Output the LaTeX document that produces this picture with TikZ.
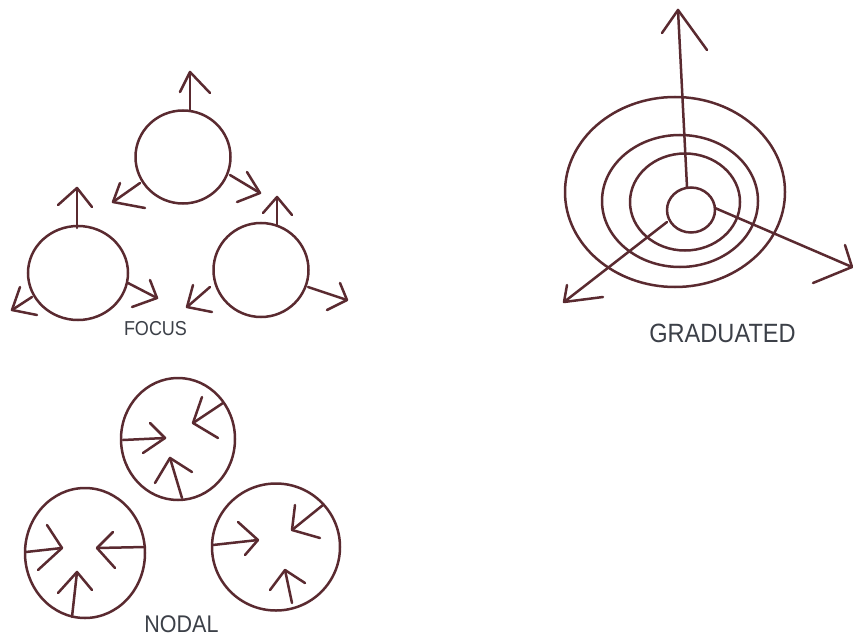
\documentclass[tikz,border=0pt]{standalone}
\usepackage{fontspec}
\setmainfont{Liberation Sans}
\usetikzlibrary{shapes.geometric}
\definecolor{ink}{HTML}{5A2A30}
\definecolor{txt}{HTML}{3C4048}
\newcommand{\tallcaps}[1]{\scalebox{1}[1.12]{#1}}
\tikzset{
  ring/.style={ellipse,draw=ink,line width=2.5pt,inner sep=0pt},
  stroke/.style={draw=ink,line width=2.5pt,line cap=round,line join=round},
  lbl/.style={text=txt,inner sep=0pt,text depth=0pt,anchor=base}
}
\begin{document}
\begin{tikzpicture}[x=1pt,y=-1pt]
\useasboundingbox[fill=white] (0,0) rectangle (853,639);
% ---------- FOCUS ----------
\node[ring,minimum width=95pt,minimum height=93pt] (ft) at (183,157) {};
\node[ring,minimum width=100pt,minimum height=94pt] (fl) at (78,273) {};
\node[ring,minimum width=95pt,minimum height=94pt] (fr) at (261,270) {};
% top circle arrows
\draw[stroke] (190,110) -- (190,72); \draw[stroke] (180,92) -- (190,72) -- (210,93);
\draw[stroke] (140,183) -- (113,202); \draw[stroke] (120,183) -- (113,202) -- (145,208);
\draw[stroke] (230,175) -- (260,193); \draw[stroke] (247,172) -- (260,193) -- (237,202);
% left circle arrows
\draw[stroke] (77,228) -- (77,188); \draw[stroke] (58,205) -- (77,188) -- (92,207);
\draw[stroke] (32,297) -- (12,310); \draw[stroke] (20,287) -- (12,310) -- (37,315);
\draw[stroke] (128,283) -- (157,298); \draw[stroke] (150,280) -- (157,298) -- (132,307);
% right circle arrows
\draw[stroke] (277,225) -- (277,197); \draw[stroke] (263,213) -- (277,197) -- (292,215);
\draw[stroke] (210,287) -- (187,307); \draw[stroke] (193,285) -- (187,307) -- (212,312);
\draw[stroke] (308,287) -- (347,300); \draw[stroke] (340,283) -- (347,300) -- (327,310);
\node[lbl,font=\fontsize{18pt}{18pt}\selectfont] (focus) at (155.5,335) {\tallcaps{FOCUS}};
% ---------- GRADUATED ----------
\node[ring,minimum width=220pt,minimum height=190pt] (g1) at (675,192) {};
\node[ring,minimum width=156pt,minimum height=132pt] (g2) at (680,201) {};
\node[ring,minimum width=110pt,minimum height=97pt] (g3) at (685,202) {};
\node[ring,minimum width=48pt,minimum height=45pt] (g4) at (691,210) {};
\draw[stroke] (687,187) -- (678,10); \draw[stroke] (662,33) -- (678,10) -- (707,50);
\draw[stroke] (715,208) -- (852,267); \draw[stroke] (845,245) -- (852,267) -- (813,283);
\draw[stroke] (667,222) -- (564,302); \draw[stroke] (567,285) -- (564,302) -- (603,297);
\node[lbl,font=\fontsize{23.6pt}{23.6pt}\selectfont] (grad) at (722.5,342) {\tallcaps{GRADUATED}};
% ---------- NODAL ----------
\node[ring,minimum width=114pt,minimum height=122pt] (nt) at (178,439) {};
\node[ring,minimum width=120pt,minimum height=130pt] (nl) at (85,553) {};
\node[ring,minimum width=128pt,minimum height=127pt] (nr) at (276,547) {};
% top circle
\draw[stroke] (123,440) -- (165,438); \draw[stroke] (150,423) -- (165,438) -- (143,453);
\draw[stroke] (223,403) -- (193,423); \draw[stroke] (202,397) -- (193,423) -- (218,438);
\draw[stroke] (182,498) -- (170,458); \draw[stroke] (155,483) -- (170,458) -- (192,472);
% left circle
\draw[stroke] (26,552) -- (62,548); \draw[stroke] (47,525) -- (62,548) -- (38,570);
\draw[stroke] (145,547) -- (97,548); \draw[stroke] (113,532) -- (97,548) -- (115,568);
\draw[stroke] (72,617) -- (77,572); \draw[stroke] (58,593) -- (77,572) -- (92,590);
% right circle
\draw[stroke] (213,545) -- (258,540); \draw[stroke] (238,522) -- (258,540) -- (245,555);
\draw[stroke] (323,505) -- (292,530); \draw[stroke] (295,505) -- (292,530) -- (320,538);
\draw[stroke] (292,603) -- (285,570); \draw[stroke] (270,590) -- (285,570) -- (305,583);
\node[lbl,font=\fontsize{21.5pt}{21.5pt}\selectfont] (nodal) at (181.5,632) {\tallcaps{NODAL}};
\end{tikzpicture}
\end{document}
